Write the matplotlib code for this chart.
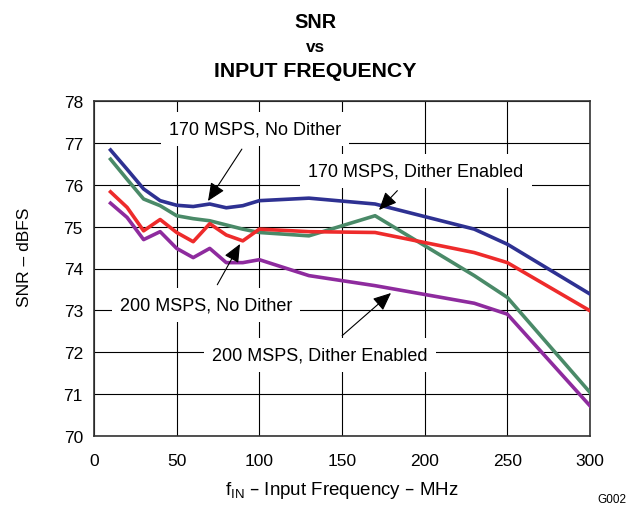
import matplotlib
matplotlib.use("Agg")
import matplotlib.pyplot as plt

plt.rcParams['font.family'] = ['Liberation Sans', 'DejaVu Sans']

freq = [10, 20, 30, 40, 50, 60, 70, 80, 90, 100, 130, 170, 230, 250, 300]
snr_170_nodither = [76.83, 76.37, 75.90, 75.62, 75.51, 75.48, 75.54, 75.45, 75.50, 75.62, 75.68, 75.54, 74.94, 74.58, 73.39]
snr_170_dither = [76.61, 76.13, 75.66, 75.50, 75.26, 75.19, 75.14, 75.04, 74.94, 74.86, 74.78, 75.26, 73.83, 73.31, 71.04]
snr_200_nodither = [75.83, 75.46, 74.90, 75.17, 74.86, 74.64, 75.07, 74.80, 74.66, 74.94, 74.88, 74.86, 74.38, 74.14, 72.99]
snr_200_dither = [75.56, 75.22, 74.69, 74.88, 74.48, 74.26, 74.48, 74.14, 74.14, 74.21, 73.83, 73.59, 73.17, 72.91, 70.72]

xticks = [0, 50, 100, 150, 200, 250, 300]
yticks = [70, 71, 72, 73, 74, 75, 76, 77, 78]

fig = plt.figure(figsize=(6.3, 5.06), dpi=100)
ax = fig.add_axes([94/630, 69/506, 496/630, 335/506])

lw = 2.6
ax.plot(freq, snr_170_nodither, color='#2e3192', lw=lw, zorder=3)
ax.plot(freq, snr_170_dither, color='#4a8a68', lw=lw, zorder=3)
ax.plot(freq, snr_200_nodither, color='#ee2b2b', lw=lw, zorder=4)
ax.plot(freq, snr_200_dither, color='#8e2b9e', lw=lw, zorder=3)

ax.set_xlim(0, 300)
ax.set_ylim(70, 78)
ax.set_xticks(xticks)
ax.set_yticks(yticks)
ax.grid(True, color='black', lw=0.8)
ax.tick_params(length=0, labelsize=12.5)
ax.tick_params(axis='x', pad=12)
ax.tick_params(axis='y', pad=8)
for s in ax.spines.values():
    s.set_linewidth(1.2)
    s.set_color('#333333')

ax.set_ylabel('SNR – dBFS', fontsize=12.5)
ax.set_xlabel(r'f$_{\mathregular{IN}}$ – Input Frequency – MHz', fontsize=13.5)
ax.yaxis.set_label_coords((25 - 94) / 496, (437 - 257) / 335)
ax.yaxis.label.set_va('center')
ax.xaxis.set_label_coords((342 - 94) / 496, (437 - 491) / 335)
ax.xaxis.label.set_va('center')

fig.text(0.5, 1 - 22.5/506, 'SNR', ha='center', va='center', fontsize=14.3, fontweight='bold')
fig.text(0.5, 1 - 47/506, 'vs', ha='center', va='center', fontsize=12.3, fontweight='bold')
fig.text(0.5, 1 - 71.5/506, 'INPUT FREQUENCY', ha='center', va='center', fontsize=15.3, fontweight='bold')
fig.text(626/630, 1 - 500/506, 'G002', ha='right', va='center', fontsize=8.5)

bbox = dict(boxstyle='square,pad=0.45', fc='white', ec='none')
arrow = dict(arrowstyle='-|>,head_length=0.5,head_width=0.22', color='black', lw=0.8,
             mutation_scale=22, shrinkA=3, shrinkB=0)

def px(xp, yp):
    # convert reference pixel position to data coords
    return ((xp - 94) / 496 * 300, 70 + (437 - yp) / 335 * 8)

ax.annotate('170 MSPS, No Dither', xy=px(208, 202), xytext=px(255, 130),
            ha='center', va='center', fontsize=13, bbox=bbox, arrowprops=arrow, zorder=5)
ax.annotate('170 MSPS, Dither Enabled', xy=px(379, 211), xytext=px(416, 172),
            ha='center', va='center', fontsize=13, bbox=bbox, arrowprops=arrow, zorder=5)
ax.annotate('200 MSPS, No Dither', xy=px(240, 245), xytext=px(206, 306),
            ha='center', va='center', fontsize=13, bbox=bbox, arrowprops=arrow, zorder=5)
ax.annotate('200 MSPS, Dither Enabled', xy=px(391, 294), xytext=px(320, 356),
            ha='center', va='center', fontsize=13, bbox=bbox, arrowprops=arrow, zorder=5)

fig.savefig('out.png', dpi=100)
